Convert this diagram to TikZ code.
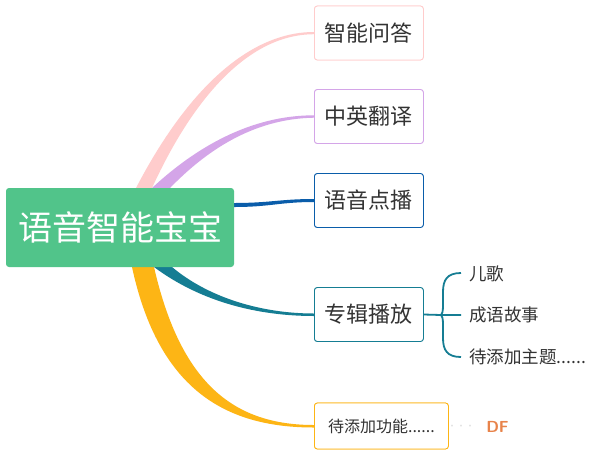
\documentclass[tikz,border=0pt]{standalone}
\usepackage{fontspec}
\setmainfont{Noto Sans CJK SC}
\usetikzlibrary{calc}
\definecolor{rootc}{HTML}{51C48A}
\definecolor{pinkc}{HTML}{FFCCCC}
\definecolor{purc}{HTML}{D4A5E8}
\definecolor{bluec}{HTML}{0A5DAA}
\definecolor{tealc}{HTML}{157D93}
\definecolor{yelc}{HTML}{FDB515}
\definecolor{txtc}{HTML}{333333}
\definecolor{dfc}{HTML}{E8834A}
\tikzset{
  rootbox/.style={fill=rootc, rounded corners=3pt, minimum width=228pt, minimum height=79pt, inner sep=0pt, text=white, font=\fontsize{34}{36}\selectfont},
  topicbox/.style={draw=#1, fill=white, line width=0.8pt, rounded corners=3pt, minimum width=109pt, minimum height=54pt, inner sep=0pt, anchor=west, text=txtc, font=\fontsize{22}{24}\selectfont},
  subtext/.style={anchor=west, inner sep=0pt, text=txtc, font=\fontsize{17.5}{20}\selectfont},
}
\begin{document}
\begin{tikzpicture}[x=1pt,y=-1pt]
\useasboundingbox (0,0) rectangle (594,456);
\fill[white] (0,0) rectangle (594,456);

\coordinate (rnw) at (6,188);
\coordinate (rsw) at (6,267);
\coordinate (rne) at (234,188);

\node[topicbox=pinkc] (b1) at (314,33) {智能问答};
\node[topicbox=purc] (b2) at (314,116.5) {中英翻译};
\node[topicbox=bluec] (b3) at (314,200.5) {语音点播};
\node[topicbox=tealc] (b4) at (314,314.5) {专辑播放};
\node[topicbox=yelc, minimum width=134pt, minimum height=46pt, font=\fontsize{16}{19}\selectfont] (b5) at (314,426) {待添加功能......};

% tapered branches
\fill[pinkc] ($(rnw)+(130,0)$) .. controls +(52,-100) and +(-64,0) .. ($(b1.west)+(0,-1)$) -- ($(b1.west)+(0,1.2)$) .. controls +(-62,0) and +(44,-96) .. ($(rnw)+(146,0)$) -- cycle;
\fill[purc] ($(rnw)+(146,0)$) .. controls +(43,-40) and +(-64,0) .. ($(b2.west)+(0,-1.2)$) -- ($(b2.west)+(0,1.2)$) .. controls +(-62,1) and +(35,-36) .. ($(rnw)+(164,0)$) -- cycle;
\fill[bluec] ($(rne)+(0,15)$) .. controls +(36,0) and +(-34,0) .. ($(b3.west)+(0,-1.5)$) -- ($(b3.west)+(0,1.5)$) .. controls +(-34,0) and +(36,0) .. ($(rne)+(0,19)$) -- cycle;
\fill[tealc] ($(rsw)+(166,0)$) .. controls +(37,31) and +(-52,0) .. ($(b4.west)+(0,-1)$) -- ($(b4.west)+(0,1.5)$) .. controls +(-56,0) and +(47,35) .. ($(rsw)+(148,0)$) -- cycle;
\fill[yelc] ($(rsw)+(148,0)$) .. controls +(27,118) and +(-79,0) .. ($(b5.west)+(0,-1)$) -- ($(b5.west)+(0,1.5)$) .. controls +(-86,0) and +(27,125) .. ($(rsw)+(126,0)$) -- cycle;

\node[rootbox] (root) at (120,227.5) {语音智能宝宝};

% redraw topic boxes on top
\node[topicbox=pinkc] at (314,33) {智能问答};
\node[topicbox=purc] at (314,116.5) {中英翻译};
\node[topicbox=bluec] at (314,200.5) {语音点播};
\node[topicbox=tealc] at (314,314.5) {专辑播放};
\node[topicbox=yelc, minimum width=134pt, minimum height=46pt, font=\fontsize{16}{19}\selectfont] at (314,426) {待添加功能......};

% sub topics
\node[subtext] (s1) at (469,274) {儿歌};
\node[subtext] (s2) at (469,315) {成语故事};
\node[subtext] (s3) at (469,357) {待添加主题......};

\coordinate (bj) at (441,315);
\draw[tealc, line width=1.8pt] (b4.east) -- (bj) -- ($(s2.west)+(-8,0)$);
\draw[tealc, line width=1.8pt] ($(s1.west)+(-8,-1)$) .. controls +(-14,0) and +(0,-12) .. (443,292) -- (443,306) .. controls (443,312) and (442,314) .. (bj) .. controls (442,316) and (443,318) .. (443,324) -- (443,338) .. controls +(0,12) and +(-14,0) .. ($(s3.west)+(-8,0)$);

% watermark
\node[text=black!12, font=\fontsize{9}{10}\selectfont, inner sep=0pt] (dots) at (461,427) {···};
\node[text=dfc, font=\sffamily\bfseries\fontsize{16}{17}\selectfont, inner sep=0pt] (df) at (497.5,426.5) {DF};
\end{tikzpicture}
\end{document}
